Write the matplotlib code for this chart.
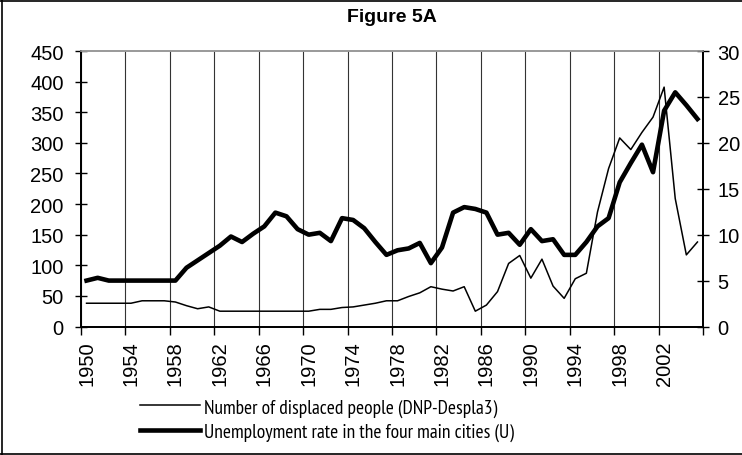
import matplotlib
matplotlib.use("Agg")
import matplotlib.pyplot as plt
from matplotlib.lines import Line2D
from matplotlib import font_manager
import numpy as np

plt.rcParams['font.family'] = ['Liberation Sans', 'DejaVu Sans']

years = list(range(1950, 2006))
displaced = [38, 38, 38, 38, 38, 42, 42, 42, 40, 34,
             29, 32, 25, 25, 25, 25, 25, 25, 25, 25,
             25, 28, 28, 31, 32, 35, 38, 42, 42, 49,
             55, 65, 61, 58, 65, 25, 35, 57, 103, 116,
             79, 110, 66, 46, 78, 87, 187, 258, 308, 289,
             317, 342, 391, 209, 117, 138]
unemployment = [5.0, 5.3, 5.0, 5.0, 5.0, 5.0, 5.0, 5.0, 5.0, 6.4,
                7.2, 8.0, 8.8, 9.8, 9.2, 10.1, 10.9, 12.4, 12.0, 10.6,
                10.0, 10.2, 9.3, 11.8, 11.6, 10.7, 9.2, 7.8, 8.3, 8.5,
                9.1, 6.9, 8.6, 12.4, 13.0, 12.8, 12.4, 10.0, 10.2, 8.9,
                10.6, 9.3, 9.5, 7.8, 7.8, 9.2, 10.9, 11.8, 15.7, 17.8,
                19.8, 16.8, 23.5, 25.5, 24.1, 22.6]
left_ticks = list(range(0, 451, 50))
right_ticks = list(range(0, 31, 5))
label_years = list(range(1950, 2003, 4))

title = "Figure 5A"
label_disp = "Number of displaced people (DNP-Despla3)"
label_unemp = "Unemployment rate in the four main cities (U)"

available = {f.name for f in font_manager.fontManager.ttflist}
narrow = 'Liberation Sans'
for cand in ['Liberation Sans Narrow', 'Arial Narrow', 'PT Sans Narrow', 'Archivo Narrow', 'Roboto Condensed']:
    if cand in available:
        narrow = cand
        break

W, H = 742, 456
fig = plt.figure(figsize=(W / 100, H / 100), dpi=100)
L, R, T, B = 81, 703, 52, 327.5
ax = fig.add_axes([L / W, (H - B) / H, (R - L) / W, (B - T) / H])
ax2 = ax.twinx()

ax.set_xlim(1949.5, 2005.5)
ax.set_ylim(0, 450)
ax2.set_ylim(0, 30)

ax.plot(years, displaced, color='black', lw=1.1, zorder=3)
ax2.plot(years, unemployment, color='black', lw=3.3, zorder=3)

fs = 14.5
ax.set_yticks(left_ticks)
ax.set_yticklabels([str(v) for v in left_ticks], fontsize=fs)
ax2.set_yticks(right_ticks)
ax2.set_yticklabels([str(v) for v in right_ticks], fontsize=fs)
ax.tick_params(axis='y', direction='inout', length=9, width=1, pad=8)
ax2.tick_params(axis='y', direction='inout', length=9, width=1, pad=6)

boundaries = np.arange(1949.5, 2005.6, 4)
ax.set_xticks(boundaries)
ax.set_xticklabels([])
ax.tick_params(axis='x', which='major', direction='out', length=6, width=1)
ax.set_xticks(label_years, minor=True)
ax.set_xticklabels([str(y) for y in label_years], minor=True, rotation=90, fontsize=fs)
ax.tick_params(axis='x', which='minor', length=0, pad=10)
ax.xaxis.grid(True, which='major', color='#333333', lw=0.8)
ax.set_axisbelow(True)

for a in (ax, ax2):
    a.spines['top'].set_color('#999999')
    a.spines['top'].set_linewidth(1.2)
    a.spines['left'].set_linewidth(1.3)
    a.spines['right'].set_linewidth(1.3)
    a.spines['bottom'].set_linewidth(1.3)

fig.text((L + R) / 2 / W, 1 - 18 / H, title, ha='center', va='center',
         fontsize=14, fontweight='bold')

lfs = 14.0
handles = [Line2D([], [], color='black', lw=1.1), Line2D([], [], color='black', lw=3.3)]
hl = 60.0 / (lfs * 100 / 72)
fig.legend(handles, [label_disp, label_unemp], loc='center left',
           bbox_to_anchor=(140 / W, 1 - 420.5 / H), frameon=False,
           prop={'family': [narrow, 'DejaVu Sans'], 'size': lfs},
           handlelength=hl, handletextpad=0.2, labelspacing=0.3,
           borderpad=0, borderaxespad=0)

fig.add_artist(Line2D([1.5 / W, 1.5 / W], [0, 1], color='black', lw=1.2))
fig.add_artist(Line2D([0, 1], [1 - 1.5 / H, 1 - 1.5 / H], color='black', lw=1.2))
fig.add_artist(Line2D([0, 1], [1.5 / H, 1.5 / H], color='black', lw=1.2))

fig.savefig("out.png", dpi=100)
